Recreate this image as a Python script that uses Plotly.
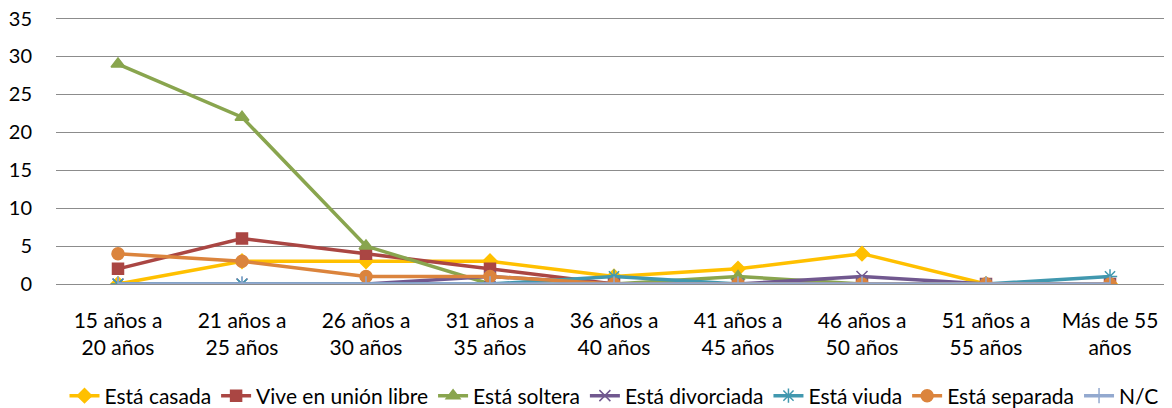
import plotly.graph_objects as go

categories = ["15 años a<br>20 años", "21 años a<br>25 años", "26 años a<br>30 años",
              "31 años a<br>35 años", "36 años a<br>40 años", "41 años a<br>45 años",
              "46 años a<br>50 años", "51 años a<br>55 años", "Más de 55<br>años"]

casada = [0, 3, 3, 3, 1, 2, 4, 0, 0]
union_libre = [2, 6, 4, 2, 0, 0, 0, 0, 0]
soltera = [29, 22, 5, 0, 0, 1, 0, 0, 0]
divorciada = [0, 0, 0, 1, 0, 0, 1, 0, 0]
viuda = [0, 0, 0, 0, 1, 0, 0, 0, 1]
separada = [4, 3, 1, 1, 0, 0, 0, 0, 0]
nc = [0, 0, 0, 0, 0, 0, 0, 0, 0]

y_ticks = [0, 5, 10, 15, 20, 25, 30, 35]

series = [
    ("Está casada", casada, "#FFC000", "diamond", 11),
    ("Vive en unión libre", union_libre, "#AA4643", "square", 11),
    ("Está soltera", soltera, "#89A54E", "triangle-up", 12),
    ("Está divorciada", divorciada, "#71588F", "x-thin-open", 11),
    ("Está viuda", viuda, "#4198AF", "asterisk-open", 12),
    ("Está separada", separada, "#DB843D", "circle", 12),
    ("N/C", nc, "#93A9CF", "line-ns-open", 11),
]

idx = list(range(len(categories)))
fig = go.Figure()
for name, vals, color, sym, size in series:
    fig.add_trace(go.Scatter(
        x=idx, y=vals, name=name, mode="lines+markers",
        line=dict(color=color, width=3.5),
        marker=dict(symbol=sym, size=size, color=color,
                    line=dict(color=color, width=1.5)),
    ))

# the page body has an 8px default margin, so the figure is 8px smaller
# and its left/top margins are reduced accordingly
font_family = "Lato, Calibri, Carlito, sans-serif"
fig.update_layout(
    width=1164, height=400,
    margin=dict(l=48, r=0, t=6, b=124, autoexpand=False),
    paper_bgcolor="white", plot_bgcolor="white",
    font=dict(family=font_family, size=20, color="black"),
    showlegend=True,
    legend=dict(orientation="h", x=0.5, xanchor="center",
                yref="container", y=0.03, yanchor="middle",
                font=dict(size=21), itemwidth=30, tracegroupgap=0),
    xaxis=dict(range=[-0.5, 8.5], tickmode="array", tickvals=idx, ticktext=categories,
               showgrid=False, zeroline=False, showline=False, ticks="",
               tickfont=dict(size=21), automargin=False, ticklabelstandoff=22),
    yaxis=dict(range=[0, 35.6], tickmode="array", tickvals=y_ticks,
               showgrid=True, gridcolor="#8C8C8C", gridwidth=1,
               zeroline=True, zerolinecolor="#8C8C8C", zerolinewidth=1,
               showline=False, ticks="", tickfont=dict(size=20), automargin=False,
               ticklabelstandoff=23, ticklabeloverflow="allow"),
)

fig.write_html("out.html")
